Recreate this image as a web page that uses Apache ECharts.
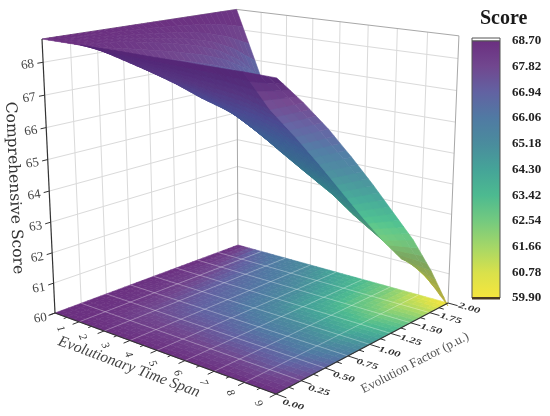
<!DOCTYPE html>
<html><head><meta charset="utf-8">
<style>html,body{margin:0;padding:0;background:#fff}#c{width:550px;height:416px}</style>
<script src="https://cdn.jsdelivr.net/npm/echarts@6/dist/echarts.min.js"></script>
</head><body><div id="c"></div>
<script>
// ---------- data ----------
const timeTicks = [1,2,3,4,5,6,7,8,9];
const factorTicks = [0,0.25,0.5,0.75,1,1.25,1.5,1.75,2];
const factorLabels = ['0.00','0.25','0.50','0.75','1.00','1.25','1.50','1.75','2.00'];
const zTicks = [60,61,62,63,64,65,66,67,68];
const zRange = [60,68.7];
const scoreRange = [59.9,68.7];
// rows: time span 1..9; columns: evolution factor 0..2
const scoreT1 = [68.70,68.70,68.70,68.70,68.70,68.70,68.70,68.70,68.70];
const scoreT2 = [68.70,68.55,68.48,68.32,68.15,67.95,67.65,67.15,66.40];
const scoreT3 = [68.70,68.20,67.70,67.45,67.15,66.85,66.55,66.20,65.75];
const scoreT4 = [68.70,68.10,67.45,66.85,66.60,66.30,66.00,65.55,65.10];
const scoreT5 = [68.69,68.00,67.30,66.60,65.90,65.50,65.15,64.70,64.20];
const scoreT6 = [68.69,67.85,67.00,66.15,65.30,64.50,64.15,63.80,63.35];
const scoreT7 = [68.68,67.75,66.80,65.85,64.90,63.95,63.05,62.70,62.45];
const scoreT8 = [68.68,67.50,66.55,65.55,64.50,63.45,62.45,61.55,60.95];
const scoreT9 = [68.66,67.85,66.95,65.95,64.90,63.80,62.70,61.40,59.90];
const scoreRows = [scoreT1,scoreT2,scoreT3,scoreT4,scoreT5,scoreT6,scoreT7,scoreT8,scoreT9];
const ramp = ['#f7e63c','#d9e14b','#a5d767','#74ca7f','#4dba90','#45a498','#4a8c9d','#507aa3','#6262a2','#71478f','#6b2f80'];

// ---------- view (camera calibration of the 3D box) ----------
const floorL=[55,313], floorN=[276,394], floorR=[448,303], floorB=[238,245];
const vanish=[265.8,4756], topLY=39;
const cam=(function(){
  const [x0,y0]=floorL,[x1,y1]=floorN,[x2,y2]=floorR,[x3,y3]=floorB;
  const dx1=x1-x2,dx2=x3-x2,sx=x0-x1+x2-x3,dy1=y1-y2,dy2=y3-y2,sy=y0-y1+y2-y3;
  const den=dx1*dy2-dx2*dy1;
  const g=(sx*dy2-dx2*sy)/den,h=(dx1*sy-sx*dy1)/den;
  const l=(topLY-y0)/(vanish[1]-topLY);
  return {a:x1-x0+g*x1,b:x3-x0+h*x3,c:x0,d:y1-y0+g*y1,e:y3-y0+h*y3,f:y0,g,h,i:l*vanish[0],j:l*vanish[1],k:l};
})();
function project(t,f,z){
  const u=(t-1)/8,v=f/2,w=(z-zRange[0])/(zRange[1]-zRange[0]);
  const W=cam.g*u+cam.h*v+cam.k*w+1;
  return [(cam.a*u+cam.b*v+cam.i*w+cam.c)/W,(cam.d*u+cam.e*v+cam.j*w+cam.f)/W,W];
}
function colorOf(z){
  const p=Math.max(0,Math.min(1,(z-scoreRange[0])/(scoreRange[1]-scoreRange[0])));
  return echarts.color.parse(echarts.color.lerp(p,ramp));
}
function shaded(z,s){
  const c=colorOf(z);
  const k=[s,s,s+(1-s)*0.6];
  return 'rgb('+[0,1,2].map(i=>Math.min(255,Math.round(c[i]*k[i]))).join(',')+')';
}
function scoreAt(ti,fj){ // ti, fj fractional grid indices; blends the four table cells for smooth painting
  const i=Math.min(7,Math.floor(ti)),j=Math.min(7,Math.floor(fj)),p=ti-i,q=fj-j;
  return (1-p)*(1-q)*scoreRows[i][j]+p*(1-q)*scoreRows[i+1][j]+(1-p)*q*scoreRows[i][j+1]+p*q*scoreRows[i+1][j+1];
}
const SUB=4;
function buildQuads(flat){
  const out=[];
  for(let m=0;m<8*SUB;m++)for(let n=0;n<8*SUB;n++){
    const ti=m/SUB,tj=(m+1)/SUB,fi=n/SUB,fj=(n+1)/SUB;
    const T=k=>1+k,F=k=>k*0.25;
    const s=[[ti,fi],[tj,fi],[tj,fj],[ti,fj]].map(p=>scoreAt(p[0],p[1]));
    const zz=flat?[60,60,60,60]:s;
    const pts=[[ti,fi],[tj,fi],[tj,fj],[ti,fj]].map((p,k)=>[T(p[0]),F(p[1]),zz[k]]);
    const pr=pts.map(p=>project(p[0],p[1],p[2]));
    const depth=pr.reduce((a,p)=>a+p[2],0)/4;
    const area=(pr[1][0]-pr[0][0])*(pr[3][1]-pr[0][1])-(pr[1][1]-pr[0][1])*(pr[3][0]-pr[0][0]);
    const mean=(s[0]+s[1]+s[2]+s[3])/4;
    let shade=1;
    if(!flat){
      const dzdt=((s[1]+s[2])-(s[0]+s[3]))/2*SUB;
      if(area>0) shade=Math.max(0.76,Math.min(1.04,0.8+0.8*dzdt));
    }
    out.push({depth,row:[].concat(pts[0],pts[1],pts[2],pts[3],mean,shade)});
  }
  if(!flat) out.sort((a,b)=>b.depth-a.depth);
  return out.map(o=>o.row);
}
function quadSeries(flat){
  return {type:'custom',coordinateSystem:'cartesian2d',silent:true,clip:false,animation:false,
    encode:{x:0,y:1},data:buildQuads(flat),
    renderItem:function(p,api){
      const pts=[];
      for(let k=0;k<4;k++){
        const q=project(api.value(k*3),api.value(k*3+1),api.value(k*3+2));
        pts.push(api.coord([q[0],q[1]]));
      }
      const c=shaded(api.value(12),api.value(13));
      return {type:'polygon',shape:{points:pts},style:{fill:c,stroke:c,lineWidth:0.6}};
    }};
}
function lineSeries(rows,stroke,width){
  return {type:'custom',coordinateSystem:'cartesian2d',silent:true,clip:false,animation:false,
    encode:{x:0,y:1},data:rows,
    renderItem:function(p,api){
      const a=project(api.value(0),api.value(1),api.value(2)),b=project(api.value(3),api.value(4),api.value(5));
      const A=api.coord([a[0],a[1]]),B=api.coord([b[0],b[1]]);
      return {type:'line',shape:{x1:A[0],y1:A[1],x2:B[0],y2:B[1]},style:{stroke:stroke,lineWidth:width}};
    }};
}
function textSeries(items,font,sx,sy){
  return {type:'custom',coordinateSystem:'cartesian2d',silent:true,clip:false,animation:false,
    encode:{x:0,y:1},data:items.map(it=>[it.t,it.f,it.z]),
    renderItem:function(p,api){
      const it=items[p.dataIndex];
      const q=it.at?it.at:project(api.value(0),api.value(1),api.value(2));
      const c=api.coord([q[0],q[1]]);
      return {type:'text',x:c[0],y:c[1],rotation:it.rot||0,scaleX:sx||1,scaleY:sy||1,
        style:Object.assign({text:it.text,x:0,y:0,align:'center',verticalAlign:'middle'},font)};
    }};
}
const Z0=zRange[0],Z1=zRange[1],Tm=9,Tn=1,Fm=2;
const wallGrid=[];
factorTicks.slice(1,-1).forEach(f=>wallGrid.push([Tn,f,Z0,Tn,f,Z1]));
timeTicks.slice(1,-1).forEach(t=>wallGrid.push([t,Fm,Z0,t,Fm,Z1]));
zTicks.slice(1).forEach(z=>{wallGrid.push([Tn,0,z,Tn,Fm,z]);wallGrid.push([Tn,Fm,z,Tm,Fm,z]);});
const wallFrame=[[Tn,Fm,Z0,Tn,Fm,Z1],[Tm,Fm,Z0,Tm,Fm,Z1],[Tn,0,Z1,Tn,Fm,Z1],[Tn,Fm,Z1,Tm,Fm,Z1]];
const floorGrid=[];
factorTicks.slice(1,-1).forEach(f=>floorGrid.push([Tn,f,Z0,Tm,f,Z0]));
timeTicks.slice(1,-1).forEach(t=>floorGrid.push([t,0,Z0,t,Fm,Z0]));
const axisLines=[[Tn,0,Z0,Tn,0,Z1],[Tn,0,Z0,Tm,0,Z0],[Tm,0,Z0,Tm,Fm,Z0]];
const ticks=[];
zTicks.forEach(z=>ticks.push([Tn,0,z,Tn,-0.05,z]));
timeTicks.forEach((t,i)=>{ticks.push([t,0,Z0,t,-0.06,Z0]);if(i<8)ticks.push([t+0.5,0,Z0,t+0.5,-0.03,Z0]);});
factorTicks.forEach((f,i)=>{ticks.push([Tm,f,Z0,Tm+0.32,f,Z0]);if(i<8)ticks.push([Tm,f+0.125,Z0,Tm+0.16,f+0.125,Z0]);});
const zLabels=zTicks.map(z=>({text:String(z),t:Tn,f:-0.135,z:z,rot:0.16}));
const tLabels=timeTicks.map(t=>({text:String(t),t:t+1.0*(9-t)/8,f:-0.17,z:Z0,rot:-1.15}));
const fLabels=factorLabels.map((s,i)=>({text:s,t:Tm+0.68,f:factorTicks[i]-0.05+0.03*factorTicks[i],z:Z0,rot:-0.28}));
const serif="'Liberation Serif'";
const chart=echarts.init(document.getElementById('c'),null,{renderer:'canvas'});
chart.setOption({
  animation:false,backgroundColor:'#fff',
  title:{text:'Score',left:480,top:9,padding:0,textStyle:{fontFamily:serif,fontSize:20,fontWeight:'bold',color:'#1a1a1a'}},
  grid:[{left:0,top:0,width:550,height:416,containLabel:false},{left:472,top:41,width:28,height:257}],
  xAxis:[{type:'value',min:0,max:550,show:false,gridIndex:0},{type:'value',min:0,max:1,show:false,gridIndex:1}],
  yAxis:[{type:'value',min:0,max:416,inverse:true,show:false,gridIndex:0},
    {type:'value',gridIndex:1,position:'right',min:scoreRange[0],max:scoreRange[1],interval:0.88,
     axisLine:{show:true,lineStyle:{color:'#555',width:1}},axisTick:{show:true,length:7,lineStyle:{color:'#444',width:1}},
     splitLine:{show:false},
     axisLabel:{margin:12,fontFamily:serif,fontWeight:'bold',fontSize:13,color:'#222',formatter:v=>v.toFixed(2),showMinLabel:true,showMaxLabel:true}}],
  series:[
    lineSeries(wallGrid,'#dadada',1),
    lineSeries(wallFrame,'#a8a8a8',1),
    quadSeries(true),
    lineSeries(floorGrid,'rgba(255,255,255,0.3)',1),
    quadSeries(false),
    lineSeries(axisLines,'#333',1.2),
    lineSeries(ticks,'#333',1),
    textSeries(zLabels,{fontFamily:serif,fontSize:13,fill:'#444'}),
    textSeries(tLabels,{fontFamily:serif,fontSize:11,fontStyle:'italic',fill:'#333'}),
    textSeries(fLabels,{fontFamily:serif,fontSize:11,fontStyle:'italic',fontWeight:'bold',fill:'#333'},1.15,0.75),
    textSeries([{text:'Comprehensive Score',at:[14,188],t:0,f:0,z:0,rot:-1.525}],{fontFamily:"'DejaVu Serif'",fontSize:15.5,fill:'#333'}),
    textSeries([{text:'Evolutionary Time Span',at:[129,367],t:0,f:0,z:0,rot:-0.356}],{fontFamily:serif,fontSize:15.5,fontStyle:'italic',fill:'#444'}),
    textSeries([{text:'Evolution Factor (p.u.)',at:[415,363],t:0,f:0,z:0,rot:0.475}],{fontFamily:serif,fontSize:13,fill:'#555'}),
    {type:'custom',xAxisIndex:1,yAxisIndex:1,coordinateSystem:'cartesian2d',silent:true,clip:false,animation:false,
     encode:{x:0,y:1},data:[[0,scoreRange[0],1,scoreRange[1]]],
     renderItem:function(p,api){
       const A=api.coord([0,api.value(1)]),B=api.coord([1,api.value(3)]);
       const n=ramp.length-1;
       const grad=new echarts.graphic.LinearGradient(0,1,0,0,ramp.map((c,i)=>({offset:i/n,color:c})));
       return {type:'group',children:[
         {type:'rect',shape:{x:A[0],y:B[1]-3,width:B[0]-A[0],height:3},style:{fill:'#fff',stroke:'#555',lineWidth:1}},
         {type:'rect',shape:{x:A[0],y:B[1],width:B[0]-A[0],height:A[1]-B[1]},style:{fill:grad,stroke:'#555',lineWidth:1}},
         {type:'rect',shape:{x:A[0],y:A[1]-1,width:B[0]-A[0],height:2.5},style:{fill:'#4a3a22'}}
       ]};
     }}
  ]
});
</script></body></html>
